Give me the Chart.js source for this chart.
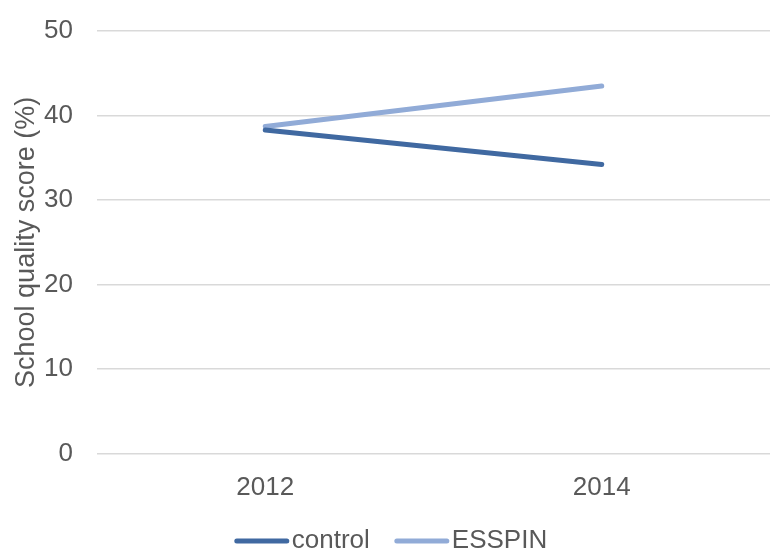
<!DOCTYPE html>
<html lang="en">
<head>
    <meta charset="UTF-8">
    <title>School quality score</title>
    <script src="https://cdn.jsdelivr.net/npm/chart.js"></script>
    <style>
        html, body { margin: 0; padding: 0; background: #fff; }
        .chart-container { width: 770px; height: 550px; position: relative; }
    </style>
</head>
<body>
    <div class="chart-container">
        <canvas id="scoreChart"></canvas>
    </div>
    <script>
        // data
        const years = ['2012', '2014'];
        const controlScores = [38.3, 34.2];
        const esspinScores = [38.7, 43.5];
        const yTicks = [0, 10, 20, 30, 40, 50];

        const controlColor = '#4069a1';
        const esspinColor = '#91abd7';
        const textColor = '#595959';
        const fontFamily = '"Liberation Sans", Arial, sans-serif';

        // legend below the axis, line sample tight against the text
        const bottomLegend = {
            id: 'bottomLegend',
            afterDraw(chart) {
                const c = chart.ctx;
                const lineLen = 54, gap = 3, itemGap = 25, y = 541;
                c.save();
                c.font = '26px ' + fontFamily;
                c.textBaseline = 'middle';
                const items = chart.data.datasets.map(ds => ({
                    label: ds.label, color: ds.borderColor,
                    w: lineLen + gap + c.measureText(ds.label).width
                }));
                const total = items.reduce((s, it) => s + it.w, 0) + itemGap * (items.length - 1);
                let x = chart.width / 2 - total / 2 + 6;
                items.forEach(it => {
                    c.strokeStyle = it.color;
                    c.lineWidth = 5;
                    c.lineCap = 'round';
                    c.beginPath();
                    c.moveTo(x + 2, y);
                    c.lineTo(x + lineLen - 2, y);
                    c.stroke();
                    c.fillStyle = textColor;
                    c.fillText(it.label, x + lineLen + gap, y);
                    x += it.w + itemGap;
                });
                c.restore();
            }
        };

        const ctx = document.getElementById('scoreChart').getContext('2d');
        new Chart(ctx, {
            type: 'line',
            data: {
                labels: years,
                datasets: [
                    {
                        label: 'control',
                        data: controlScores,
                        borderColor: controlColor,
                        backgroundColor: controlColor,
                        borderWidth: 5,
                        borderCapStyle: 'round',
                        pointRadius: 0,
                        fill: false
                    },
                    {
                        label: 'ESSPIN',
                        data: esspinScores,
                        borderColor: esspinColor,
                        backgroundColor: esspinColor,
                        borderWidth: 5,
                        borderCapStyle: 'round',
                        pointRadius: 0,
                        fill: false
                    }
                ]
            },
            options: {
                responsive: true,
                maintainAspectRatio: false,
                animation: false,
                layout: { padding: { top: 31, right: -13, left: 10, bottom: 29 } },
                scales: {
                    x: {
                        offset: true,
                        grid: { display: false, drawTicks: false },
                        border: { display: false },
                        ticks: { color: textColor, font: { family: fontFamily, size: 26 }, padding: 18 }
                    },
                    y: {
                        min: 0,
                        max: 50,
                        afterBuildTicks: axis => { axis.ticks = yTicks.map(v => ({ value: v })); },
                        afterFit: axis => {
                            axis.width = 87;
                            axis.paddingTop = 0;
                            axis.paddingBottom = 0;
                        },
                        grid: { color: '#d9d9d9', lineWidth: 1.5, drawTicks: false },
                        border: { display: false },
                        ticks: { color: textColor, font: { family: fontFamily, size: 26 }, padding: 24 },
                        title: {
                            display: true,
                            text: 'School quality score (%)',
                            color: textColor,
                            font: { family: fontFamily, size: 27 },
                            padding: { top: 0, bottom: 4 }
                        }
                    }
                },
                plugins: {
                    legend: { display: false },
                    tooltip: { enabled: false }
                }
            },
            plugins: [bottomLegend]
        });
    </script>
</body>
</html>
